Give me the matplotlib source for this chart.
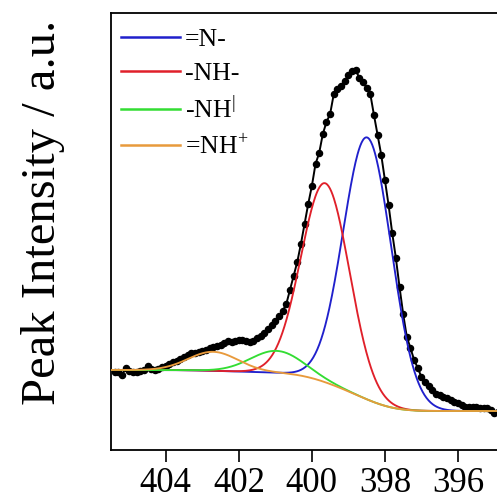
import numpy as np
import matplotlib
matplotlib.use('Agg')
import matplotlib.pyplot as plt

# binding energy grid (eV), 0.1 eV step
energy = np.round(np.arange(405.4, 394.75, -0.1), 1)

intensity = [78, 78, 75, 82, 79, 78, 78, 79, 80, 84,
             81, 80, 81, 83, 84, 86, 88, 89, 91, 93,
             95, 97, 97, 98, 99, 100, 102, 103, 104, 105,
             107, 109, 108, 109, 110, 110, 109, 108, 109, 112,
             114, 117, 121, 125, 129, 134, 139, 146, 160, 174,
             188, 206, 226, 246, 264, 286, 297, 316, 328, 336,
             356, 361, 364, 369, 375, 379, 380, 372, 368, 362,
             356, 335, 315, 295, 270, 245, 217, 192, 163, 136,
             113, 102, 90, 82, 73, 68, 64, 60, 56, 55,
             53, 52, 50, 48, 47, 45, 43, 43, 43, 43,
             42, 42, 42, 40, 37, 38, 38]

# fitted components: label, centre (eV), height (a.u.), sigma (eV)
labels = ['=N-', '-NH-', '-NH$^{\\mathregular{|}}$', '=NH$^{\\mathregular{+}}$']
centers = [398.48, 399.63, 400.95, 402.70]
heights = [262, 199, 22, 19]
sigmas = [0.66, 0.66, 0.72, 0.68]
colors = ['#2020cc', '#e0202a', '#33dd33', '#e89a3c']

# shirley background end points
bg_high = 80
bg_low = 39

plt.rcParams['font.family'] = 'Liberation Serif'
plt.rcParams['mathtext.fontset'] = 'stix'

fig = plt.figure(figsize=(4.97, 5.0), dpi=100)
ax = fig.add_axes([0.2233, 0.1, 0.79, 0.874])

E = np.linspace(405.6, 394.6, 600)
peaks = [h*np.exp(-0.5*((E-c)/s)**2) for c, h, s in zip(centers, heights, sigmas)]
total = np.sum(peaks, axis=0)
# E runs high -> low, integrate from low-BE side
cum = np.cumsum(total[::-1])[::-1]
bg = bg_low + (bg_high-bg_low)*cum/cum[0]

ax.plot(energy, intensity, '-o', color='black', lw=1.4, ms=4.4, zorder=2)
for p, c, lab in zip(peaks, colors, labels):
    ax.plot(E, p+bg, color=c, lw=1.35, label=lab, zorder=3)

ax.set_xlim(405.5, 394.75)
ax.set_ylim(0, 437)
ax.set_xticks([404, 402, 400, 398, 396])
ax.set_yticks([])
ax.tick_params(axis='x', direction='out', length=8.5, width=1.2, pad=4, labelsize=25)
for sp in ax.spines.values():
    sp.set_linewidth(1.3)
ax.spines['right'].set_visible(False)

leg = ax.legend(loc='upper left', bbox_to_anchor=(-0.015, 1.0), frameon=False,
                fontsize=18.5, handlelength=2.3, handletextpad=0.2,
                labelspacing=0.41, borderaxespad=0.15, borderpad=0.45)
for h in leg.get_lines():
    h.set_linewidth(1.8)

fig.text(0.087, 0.575, 'Peak Intensity / a.u.', rotation=90, ha='center',
         va='center', fontsize=35)

fig.savefig('out.png', dpi=100)
